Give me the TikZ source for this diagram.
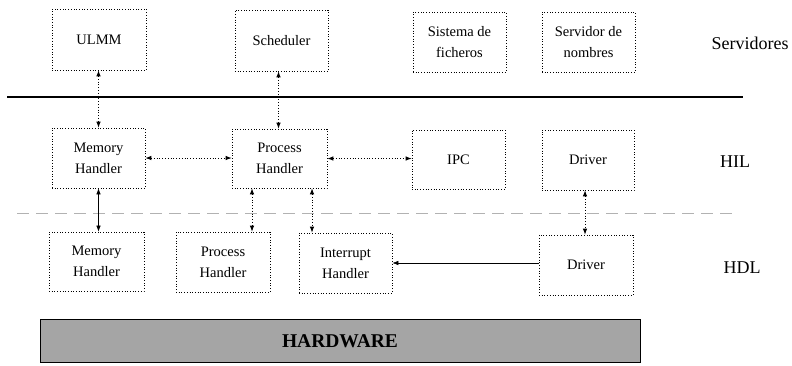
\documentclass[tikz,border=0pt]{standalone}
\usepackage{fontspec}
\setmainfont{Liberation Serif}
\usetikzlibrary{arrows.meta}
\definecolor{hwgray}{RGB}{165,165,165}
\tikzset{
  box/.style={draw, dotted, line width=0.7pt, inner sep=0pt, align=center,
    font=\fontsize{14.5}{21}\selectfont, text depth=0pt},
  link/.style={dotted, line width=0.8pt, {Latex[length=6pt,width=4.5pt]}-{Latex[length=6pt,width=4.5pt]}},
  slink/.style={line width=0.6pt, {Latex[length=6pt,width=4.5pt]}-{Latex[length=6pt,width=4.5pt]}},
  lbl/.style={font=\fontsize{18}{20}\selectfont},
}
\begin{document}
\begin{tikzpicture}[x=1pt,y=-1pt]
\useasboundingbox (0,0) rectangle (792,365);
% servers row
\node[box, minimum width=94pt, minimum height=61pt] (ulmm) at (99,39.5) {ULMM};
\node[box, minimum width=93pt, minimum height=61pt] (sched) at (281.5,40.5) {Scheduler};
\node[box, minimum width=93pt, minimum height=60pt] (sist) at (459.5,42) {Sistema de\\ficheros};
\node[box, minimum width=93pt, minimum height=60pt] (serv) at (588.5,42) {Servidor de\\nombres};
\node[lbl] (lserv) at (750,43) {Servidores};
% separators
\coordinate (s1a) at (7,97);
\coordinate (s1b) at (743,97);
\draw[line width=1.3pt] (s1a) -- (s1b);
\coordinate (s2a) at (17,213);
\coordinate (s2b) at (732,213);
\draw[gray!60, line width=0.9pt, dash pattern=on 12pt off 7pt] (s2a) -- (s2b);
% HIL row
\node[box, minimum width=93pt, minimum height=60pt] (memH) at (98.5,158) {Memory\\Handler};
\node[box, minimum width=95pt, minimum height=59pt] (procH) at (279.5,158.5) {Process\\Handler};
\node[box, minimum width=93pt, minimum height=59pt] (ipc) at (458.5,159.5) {IPC};
\node[box, minimum width=92pt, minimum height=60pt] (drvH) at (588,160) {Driver};
\node[lbl] (lhil) at (735,162) {HIL};
% HDL row
\node[box, minimum width=95pt, minimum height=59pt] (memL) at (96.5,261.5) {Memory\\Handler};
\node[box, minimum width=94pt, minimum height=60pt] (procL) at (223,262) {Process\\Handler};
\node[box, minimum width=93pt, minimum height=60pt] (intL) at (345.5,263) {Interrupt\\Handler};
\node[box, minimum width=94pt, minimum height=60pt] (drvL) at (586,265) {Driver};
\node[lbl] (lhdl) at (742,268) {HDL};
% hardware
\node[draw, line width=0.7pt, fill=hwgray, minimum width=600pt, minimum height=43pt, inner sep=0pt,
  font=\fontsize{19.5}{22}\selectfont\bfseries] (hw) at (340,341) {\raisebox{-4pt}{HARDWARE}};
% connectors
\coordinate (sc) at ([xshift=-3pt]sched.south);
\coordinate (p1) at ([xshift=-27.5pt]procH.south);
\coordinate (p2) at ([xshift=32.5pt]procH.south);
\coordinate (d1) at ([xshift=-3pt]drvH.south);
\draw[link] (ulmm.south -| memH.north) -- (memH.north);
\draw[link] (sc) -- (sc |- procH.north);
\draw[link] (memH.east) -- (memH.east -| procH.west);
\draw[link] (procH.east) -- (procH.east -| ipc.west);
\draw[slink] (memH.south) -- (memH.south |- memL.north);
\draw[link] (p1) -- (p1 |- procL.north);
\draw[link] (p2) -- (p2 |- intL.north);
\draw[link] (d1) -- (d1 |- drvL.north);
\draw[line width=0.6pt, -{Latex[length=6pt,width=4.5pt]}] (drvL.west |- intL.east) -- (intL.east);
\end{tikzpicture}
\end{document}
